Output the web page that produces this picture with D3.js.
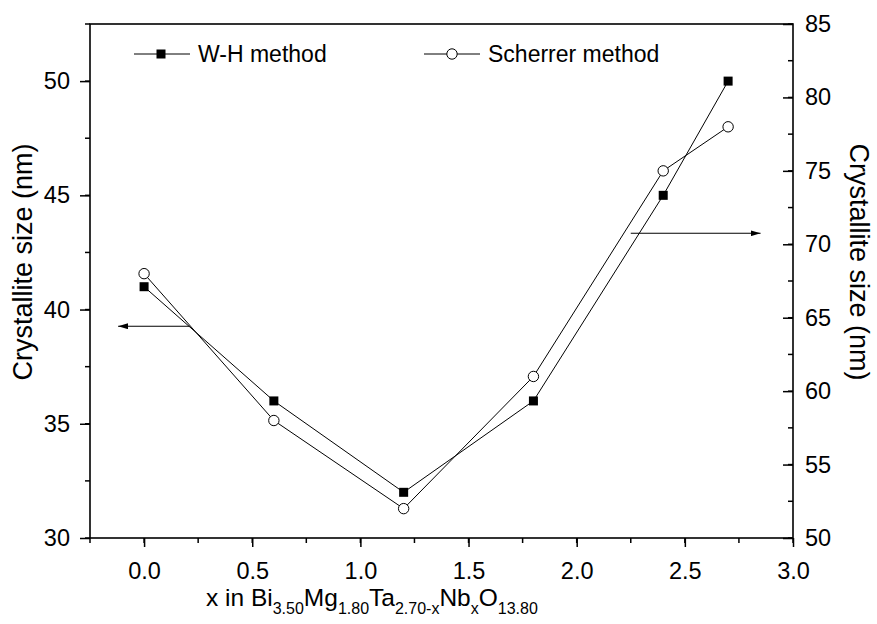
<!DOCTYPE html>
<html>
<head>
<meta charset="utf-8">
<script src="https://cdn.jsdelivr.net/npm/d3@7"></script>
<style>
  html, body { margin: 0; padding: 0; background: #fff; }
  svg { display: block; }
  text { font-family: "Liberation Sans", Arial, sans-serif; fill: #000; }
</style>
</head>
<body>
<svg id="chart" width="877" height="624"></svg>
<script>
// Nb content x in Bi3.50Mg1.80Ta2.70-xNbxO13.80
const compositions = [0.0, 0.6, 1.2, 1.8, 2.4, 2.7];
// Crystallite size from Williamson-Hall analysis (left axis, nm)
const whSize = [41, 36, 32, 36, 45, 50];
// Crystallite size from Scherrer equation (right axis, nm)
const scherrerSize = [68, 58, 52, 61, 75, 78];

const xTicks = [0.0, 0.5, 1.0, 1.5, 2.0, 2.5, 3.0];
const leftTicks = [30, 35, 40, 45, 50];
const rightTicks = [50, 55, 60, 65, 70, 75, 80, 85];

const svg = d3.select("#chart");
const plot = { left: 90, right: 793, top: 24, bottom: 538 };

const x = d3.scaleLinear().domain([-0.25, 3.0]).range([plot.left, plot.right]);
const yL = d3.scaleLinear().domain([30, 52.5]).range([plot.bottom, plot.top]);
const yR = d3.scaleLinear().domain([50, 85]).range([plot.bottom, plot.top]);

const tickFs = 23.5;
const titleFs = 27;
const legendFs = 23;

// minor ticks between the labelled ones
function minorTicks(g, scale, orient, step, len) {
  const [d0, d1] = scale.domain();
  const vals = d3.range(Math.ceil(d0 / step - 1e-9) * step, d1 + 1e-9, step);
  vals.forEach(v => {
    const p = scale(v);
    if (orient === "bottom") g.append("line").attr("x1", p).attr("x2", p).attr("y1", plot.bottom).attr("y2", plot.bottom + len);
    if (orient === "left") g.append("line").attr("x1", plot.left - len).attr("x2", plot.left).attr("y1", p).attr("y2", p);
    if (orient === "right") g.append("line").attr("x1", plot.right - len).attr("x2", plot.right).attr("y1", p).attr("y2", p);
  });
}
const minor = svg.append("g").attr("stroke", "#000").attr("stroke-width", 1.5);
minorTicks(minor, x, "bottom", 0.25, 5);
minorTicks(minor, yL, "left", 2.5, 5);
minorTicks(minor, yR, "right", 2.5, 5);

// bottom axis
const xAxis = svg.append("g")
  .attr("transform", `translate(0,${plot.bottom})`)
  .call(d3.axisBottom(x).tickValues(xTicks).tickFormat(d3.format(".1f")).tickSize(9).tickPadding(15).tickSizeOuter(0));
// left axis
const leftAxis = svg.append("g")
  .attr("transform", `translate(${plot.left},0)`)
  .call(d3.axisLeft(yL).tickValues(leftTicks).tickSize(10).tickPadding(10).tickSizeOuter(0));
// right axis, ticks pointing into the plot
const rightAxis = svg.append("g")
  .attr("transform", `translate(${plot.right},0)`)
  .call(d3.axisRight(yR).tickValues(rightTicks).tickSize(-10).tickPadding(12).tickSizeOuter(0));

[xAxis, leftAxis, rightAxis].forEach(g => {
  g.selectAll("path.domain").remove();
  g.selectAll(".tick line").attr("stroke", "#000").attr("stroke-width", 1.5);
  g.selectAll(".tick text").attr("font-size", tickFs).attr("font-family", "Liberation Sans, Arial, sans-serif").attr("fill", "#000");
});

// frame
svg.append("rect")
  .attr("x", plot.left).attr("y", plot.top)
  .attr("width", plot.right - plot.left).attr("height", plot.bottom - plot.top)
  .attr("fill", "none").attr("stroke", "#000").attr("stroke-width", 1.6);

// axis titles
const titleMid = 262;
svg.append("text")
  .attr("transform", `translate(32,${titleMid}) rotate(-90)`)
  .attr("text-anchor", "middle").attr("font-size", titleFs)
  .text("Crystallite size (nm)");
svg.append("text")
  .attr("transform", `translate(850,${titleMid}) rotate(90)`)
  .attr("text-anchor", "middle").attr("font-size", titleFs)
  .text("Crystallite size (nm)");

// x title with subscripts
const xt = svg.append("text")
  .attr("x", 206).attr("y", 606)
  .attr("text-anchor", "start").attr("font-size", 24.5);
const parts = [["x in Bi", false], ["3.50", true], ["Mg", false], ["1.80", true], ["Ta", false],
  ["2.70-x", true], ["Nb", false], ["x", true], ["O", false], ["13.80", true]];
parts.forEach(([t, sub], i) => {
  const prev = i > 0 ? parts[i - 1][1] : false;
  const ts = xt.append("tspan").text(t);
  if (sub) ts.attr("font-size", 16).attr("dy", prev ? 0 : 8);
  else if (prev) ts.attr("dy", -8);
});

// reference arrows pointing to each series' axis
svg.append("defs").append("marker")
  .attr("id", "arrowhead").attr("viewBox", "0 0 10 6").attr("refX", 10).attr("refY", 3)
  .attr("markerWidth", 10).attr("markerHeight", 6).attr("markerUnits", "userSpaceOnUse").attr("orient", "auto")
  .append("path").attr("d", "M0,0 L10,3 L0,6 Z").attr("fill", "#000");
svg.append("line")
  .attr("x1", x(0.21)).attr("x2", x(-0.12))
  .attr("y1", yL(39.27)).attr("y2", yL(39.27))
  .attr("stroke", "#000").attr("stroke-width", 1.2).attr("marker-end", "url(#arrowhead)");
svg.append("line")
  .attr("x1", x(2.25)).attr("x2", x(2.85))
  .attr("y1", yR(70.75)).attr("y2", yR(70.75))
  .attr("stroke", "#000").attr("stroke-width", 1.2).attr("marker-end", "url(#arrowhead)");

// series lines
const whPts = compositions.map((c, i) => [x(c), yL(whSize[i])]);
const scPts = compositions.map((c, i) => [x(c), yR(scherrerSize[i])]);
const line = d3.line();
svg.append("path").attr("d", line(whPts)).attr("fill", "none").attr("stroke", "#000").attr("stroke-width", 1);
svg.append("path").attr("d", line(scPts)).attr("fill", "none").attr("stroke", "#000").attr("stroke-width", 1);

// markers
const sq = 9;
svg.append("g").selectAll("rect").data(whPts).join("rect")
  .attr("x", d => d[0] - sq / 2).attr("y", d => d[1] - sq / 2)
  .attr("width", sq).attr("height", sq).attr("fill", "#000");
svg.append("g").selectAll("circle").data(scPts).join("circle")
  .attr("cx", d => d[0]).attr("cy", d => d[1]).attr("r", 5.2)
  .attr("fill", "#fff").attr("stroke", "#000").attr("stroke-width", 1);

// legend
const legend = svg.append("g");
const legY = 54;
legend.append("line").attr("x1", 134).attr("x2", 190).attr("y1", legY).attr("y2", legY).attr("stroke", "#000").attr("stroke-width", 1);
legend.append("rect").attr("x", 161 - sq / 2).attr("y", legY - sq / 2).attr("width", sq).attr("height", sq).attr("fill", "#000");
legend.append("text").attr("x", 198).attr("y", legY + 8).attr("font-size", legendFs).text("W-H method");
legend.append("line").attr("x1", 424).attr("x2", 480).attr("y1", legY).attr("y2", legY).attr("stroke", "#000").attr("stroke-width", 1);
legend.append("circle").attr("cx", 452).attr("cy", legY).attr("r", 5.2).attr("fill", "#fff").attr("stroke", "#000");
legend.append("text").attr("x", 488).attr("y", legY + 8).attr("font-size", legendFs).text("Scherrer method");
</script>
</body>
</html>
